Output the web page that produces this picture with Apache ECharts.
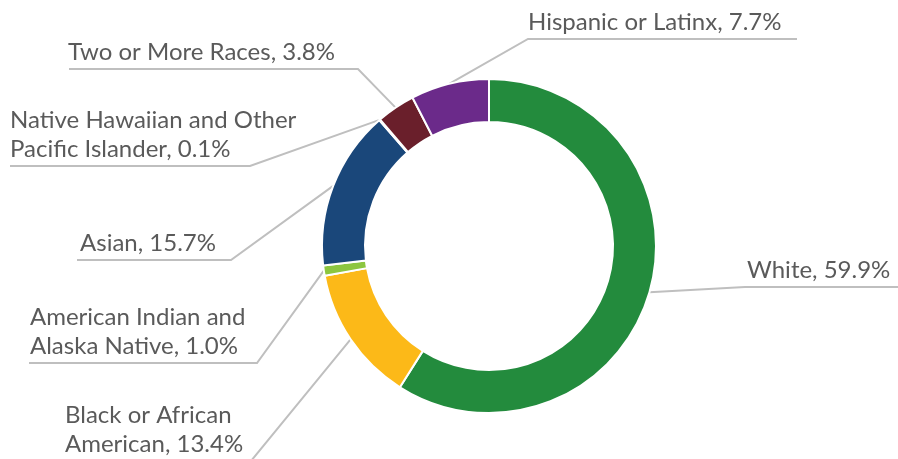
<!DOCTYPE html>
<html lang="en">
<head>
  <meta charset="UTF-8">
  <title>Race / Ethnicity Breakdown</title>
  <script src="https://cdn.jsdelivr.net/npm/echarts@6/dist/echarts.min.js"></script>
  <style>
    html, body { margin: 0; padding: 0; background: #fff; }
    #chart { width: 898px; height: 459px; }
  </style>
</head>
<body>
  <div id="chart"></div>
  <script>
    // categories (line breaks as they wrap in the labels)
    const groups = [
      'White',
      'Black or African\nAmerican',
      'American Indian and\nAlaska Native',
      'Asian',
      'Native Hawaiian and Other\nPacific Islander',
      'Two or More Races',
      'Hispanic or Latinx'
    ];
    // percent of total
    const shares = [59.9, 13.4, 1.0, 15.7, 0.1, 3.8, 7.7];
    const sliceColors = ['#238b3d', '#fcb918', '#8cc63f', '#1a477a', '#7f7f7f', '#6a1f2b', '#6b2a8a'];

    // where each label sits: text left x, underline y, underline from x1 to x2, elbow side
    const labelSpots = [
      [747, 287, 745, 898, 'left'],
      [65, 461, 60, 251, 'right'],
      [30, 363, 29, 257, 'right'],
      [80, 260, 77, 231, 'right'],
      [10, 166, 10, 250, 'right'],
      [68, 69, 69, 358, 'right'],
      [528, 39, 528, 797, 'left']
    ];

    const pieData = groups.map((g, i) => ({
      name: g,
      value: shares[i],
      itemStyle: { color: sliceColors[i] }
    }));

    const chart = echarts.init(document.getElementById('chart'));
    chart.setOption({
      animation: false,
      series: [{
        type: 'pie',
        center: [489, 246],
        radius: [124, 167],
        startAngle: 90,
        clockwise: true,
        avoidLabelOverlap: false,
        silent: true,
        data: pieData,
        itemStyle: { borderColor: '#fff', borderWidth: 2 },
        label: {
          show: true,
          position: 'outside',
          formatter: p => p.name + ', ' + p.value.toFixed(1) + '%',
          fontFamily: 'Lato',
          fontSize: 24,
          lineHeight: 29,
          color: '#5a5a5a'
        },
        labelLine: {
          show: true,
          length: 20,
          length2: 20,
          lineStyle: { color: '#bfbfbf', width: 2 }
        },
        labelLayout: function (params) {
          const s = labelSpots[params.dataIndex];
          const start = params.labelLinePoints ? params.labelLinePoints[0] : [489, 246];
          const elbowX = s[4] === 'left' ? s[2] : s[3];
          const endX = s[4] === 'left' ? s[3] : s[2];
          return {
            x: s[0],
            y: s[1] - 2,
            align: 'left',
            verticalAlign: 'bottom',
            labelLinePoints: [start, [elbowX, s[1]], [endX, s[1]]]
          };
        }
      }]
    });
  </script>
</body>
</html>
